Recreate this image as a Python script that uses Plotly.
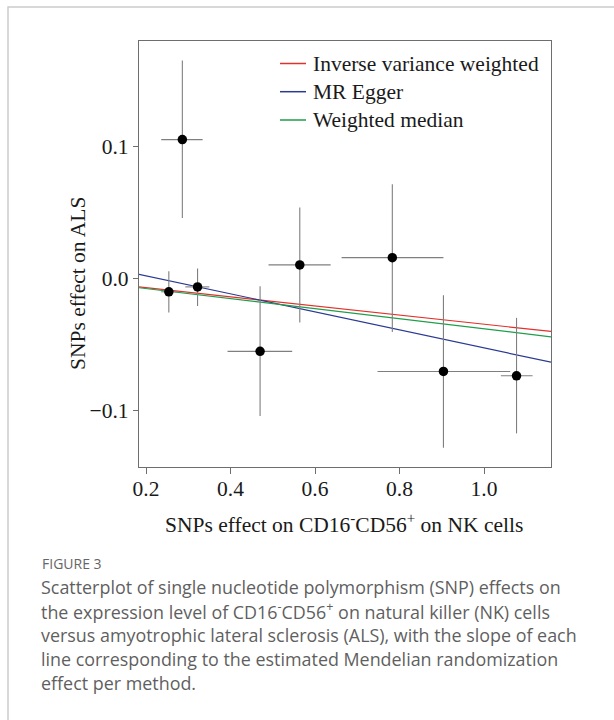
import plotly.graph_objects as go

# ---- data ----
snp_x = [0.286, 0.254, 0.322, 0.470, 0.564, 0.783, 0.904, 1.077]
snp_y = [0.105, -0.010, -0.0063, -0.055, 0.0103, 0.0158, -0.0702, -0.0735]
snp_x_lo = [0.236, 0.236, 0.293, 0.393, 0.490, 0.663, 0.748, 1.040]
snp_x_hi = [0.334, 0.275, 0.350, 0.546, 0.637, 0.904, 1.062, 1.115]
snp_y_lo = [0.0457, -0.0257, -0.0207, -0.1039, -0.0332, -0.0403, -0.1278, -0.1170]
snp_y_hi = [0.1648, 0.0055, 0.0075, -0.0058, 0.0536, 0.0712, -0.0126, -0.0297]

methods = ["Inverse variance weighted", "MR Egger", "Weighted median"]
method_slopes = [-0.0345, -0.0681, -0.0380]
method_intercepts = [0.0, 0.0157, 0.0]
method_colors = ["#E3302B", "#2B3A92", "#1E9E4A"]

x_range = [0.1834, 1.1586]
y_range = [-0.1424, 0.1795]
x_ticks = [0.2, 0.4, 0.6, 0.8, 1.0]
x_tick_text = ["0.2", "0.4", "0.6", "0.8", "1.0"]
y_ticks = [-0.1, 0.0, 0.1]
y_tick_text = ["\u22120.1", "0.0", "0.1"]

x_title = "SNPs effect on CD16<sup>-</sup>CD56<sup>+</sup> on NK cells"
y_title = "SNPs effect on ALS"

caption_head = "FIGURE 3"
caption_lines = [
    "Scatterplot of single nucleotide polymorphism (SNP) effects on",
    "the expression level of CD16<sup>-</sup>CD56<sup>+</sup> on natural killer (NK) cells",
    "versus amyotrophic lateral sclerosis (ALS), with the slope of each",
    "line corresponding to the estimated Mendelian randomization",
    "effect per method.",
]

# ---- layout geometry (pixels) ----
W, H = 614, 720
L, R, T, B = 139, 551, 41, 467
pw, ph = R - L, B - T


def px(x):
    return (x - L) / pw


def py(y):
    return (B - y) / ph


SERIF = "Liberation Serif, Times New Roman, serif"
SANS = "Open Sans, Lato, sans-serif"
FS = 21.5
TXT = "#1a1a1a"

fig = go.Figure()

# regression lines drawn over the full axis range
for name, s, b, c in zip(methods, method_slopes, method_intercepts, method_colors):
    fig.add_trace(go.Scatter(
        x=x_range, y=[b + s * x_range[0], b + s * x_range[1]],
        mode="lines", line=dict(color=c, width=1.2), name=name,
        showlegend=False, hoverinfo="skip"))

fig.add_trace(go.Scatter(
    x=snp_x, y=snp_y, mode="markers",
    marker=dict(color="black", size=9.5, symbol="circle"),
    error_x=dict(type="data", symmetric=False,
                 array=[h - x for h, x in zip(snp_x_hi, snp_x)],
                 arrayminus=[x - l for l, x in zip(snp_x_lo, snp_x)],
                 color="#7f7f7f", thickness=1.1, width=0),
    error_y=dict(type="data", symmetric=False,
                 array=[h - y for h, y in zip(snp_y_hi, snp_y)],
                 arrayminus=[y - l for l, y in zip(snp_y_lo, snp_y)],
                 color="#7f7f7f", thickness=1.1, width=0),
    showlegend=False))

shapes = []
annotations = []

# manual legend
leg_y = [63.5, 91.7, 120]
for name, c, yy in zip(methods, method_colors, leg_y):
    shapes.append(dict(type="line", xref="paper", yref="paper",
                       x0=px(280), x1=px(306), y0=py(yy), y1=py(yy),
                       line=dict(color=c, width=1.5)))
    annotations.append(dict(text=name, xref="paper", yref="paper",
                            x=px(311), y=py(yy), xanchor="left", yanchor="middle",
                            showarrow=False, font=dict(family=SERIF, size=FS, color=TXT)))

# axis titles
annotations.append(dict(text=x_title, xref="paper", yref="paper",
                        x=px(344), y=py(523), xanchor="center", yanchor="middle",
                        showarrow=False, font=dict(family=SERIF, size=FS, color=TXT)))
annotations.append(dict(text=y_title, xref="paper", yref="paper", textangle=-90,
                        x=px(78), y=py(284), xanchor="center", yanchor="middle",
                        showarrow=False, font=dict(family=SERIF, size=FS, color=TXT)))

# outer figure frame
shapes.append(dict(type="rect", xref="paper", yref="paper",
                   x0=px(8), x1=px(640), y0=py(7), y1=py(760),
                   line=dict(color="#cccccc", width=1.5), layer="below"))

# caption
annotations.append(dict(text=caption_head, xref="paper", yref="paper",
                        x=px(40), y=py(563), xanchor="left", yanchor="middle",
                        showarrow=False, font=dict(family=SANS, size=14, color="#666666")))
for i, line in enumerate(caption_lines):
    annotations.append(dict(text=line, xref="paper", yref="paper",
                            x=px(39), y=py(587 + 24 * i), xanchor="left", yanchor="middle",
                            showarrow=False, font=dict(family=SANS, size=17.9, color="#5f5f5f")))

fig.update_layout(
    width=W, height=H,
    margin=dict(l=L, r=W - R, t=T, b=H - B, pad=0),
    paper_bgcolor="white", plot_bgcolor="white",
    shapes=shapes, annotations=annotations,
    showlegend=False,
)
fig.update_xaxes(
    range=x_range, tickvals=x_ticks, ticktext=x_tick_text,
    showgrid=False, zeroline=False, showline=True, mirror=True,
    linecolor="#6e6e6e", linewidth=1.3,
    ticks="outside", ticklen=6, tickcolor="#6e6e6e", tickwidth=1,
    ticklabelstandoff=-4,
    tickfont=dict(family=SERIF, size=FS, color=TXT),
)
fig.update_yaxes(
    range=y_range, tickvals=y_ticks, ticktext=y_tick_text,
    showgrid=False, zeroline=False, showline=True, mirror=True,
    linecolor="#6e6e6e", linewidth=1.3,
    ticks="outside", ticklen=5, tickcolor="#6e6e6e", tickwidth=1,
    tickfont=dict(family=SERIF, size=FS, color=TXT),
)

fig.write_html("out.html")
